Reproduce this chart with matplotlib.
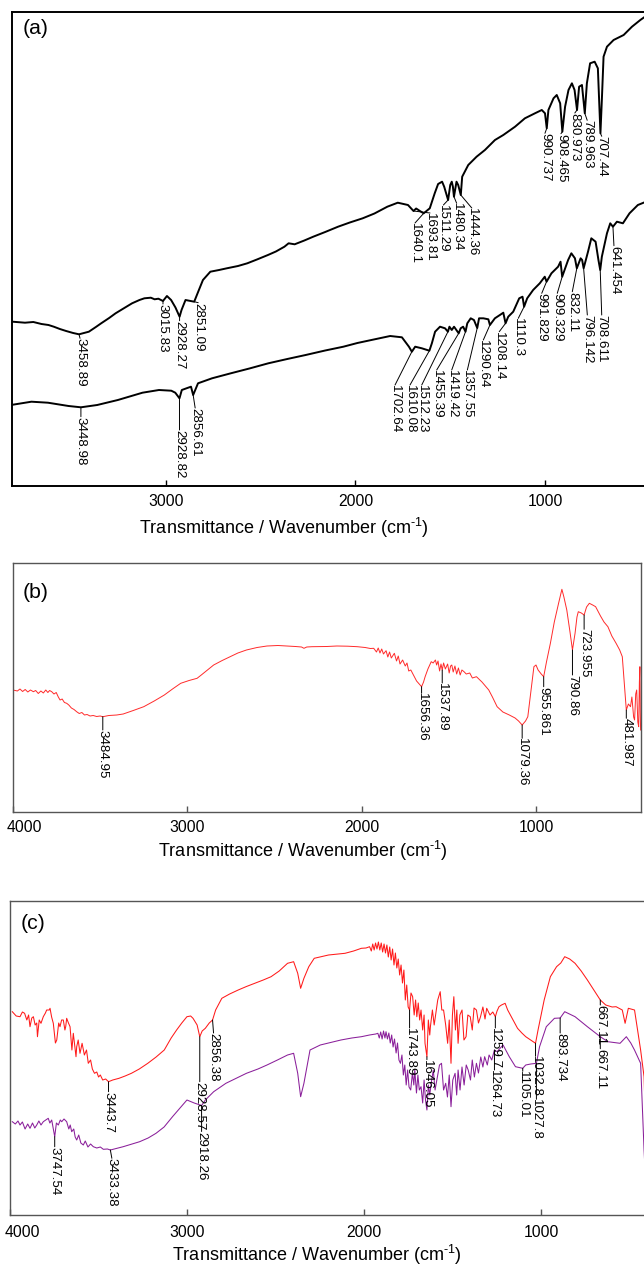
import numpy as np
import matplotlib
matplotlib.use("Agg")
import matplotlib.pyplot as plt
import matplotlib.transforms as mtransforms

plt.rcParams['font.family'] = ['Liberation Sans', 'DejaVu Sans']
plt.rcParams['mathtext.fontset'] = 'custom'
plt.rcParams['mathtext.rm'] = 'Liberation Sans'
plt.rcParams['mathtext.it'] = 'Liberation Sans:italic'
plt.rcParams['mathtext.bf'] = 'Liberation Sans:bold'

# ---------------- (a) two black spectra ----------------
a_up_wn = [3810, 3744, 3700, 3657, 3620, 3592, 3560, 3527, 3490, 3458.89, 3407, 3370, 3342, 3300, 3266,
           3220, 3179, 3140, 3114, 3080, 3060, 3040, 3015.83, 2995, 2973, 2950, 2928.27, 2918, 2897,
           2851.09, 2830, 2805, 2766, 2720, 2679, 2620, 2571, 2520, 2462, 2420, 2375, 2353, 2321, 2270,
           2223, 2160, 2092, 2030, 1962, 1900, 1832, 1777, 1723, 1693.81, 1680, 1660, 1640.1, 1608, 1582,
           1564, 1543, 1532, 1511.29, 1500, 1492, 1486, 1480.34, 1467, 1458, 1444.36, 1437, 1405, 1361,
           1317, 1264, 1220, 1158, 1106, 1053, 1017, 1000, 990.737, 982, 955, 938, 920, 908.465, 894, 876,
           858, 844, 830.973, 820, 805, 789.963, 779, 762, 738, 721, 707.44, 700, 691, 673, 638, 585, 541,
           497, 467, 430]
a_up_t = [163.8, 162.8, 163.5, 161.5, 160.5, 158.8, 156.5, 154.5, 152.5, 151.2, 153.8, 158.5, 162.2, 167.5,
          172.2, 177.5, 182.2, 185.5, 187.2, 187.8, 186.2, 186.8, 184.5, 189.5, 185.5, 178, 168.8, 175.5,
          185.5, 183.8, 193.8, 205.5, 213.8, 215.5, 217.2, 219.5, 222.2, 226, 230.5, 234, 238.8, 242.2,
          241.2, 245, 248.8, 253.5, 258.8, 263, 267.2, 272, 278.8, 282.8, 280.5, 274.5, 277, 274.5, 272.2,
          277.2, 292.2, 301.5, 303.8, 298.8, 285.5, 300.5, 303.8, 298.8, 288.8, 303.8, 300.5, 290.5, 308.8,
          320.5, 328.8, 335.5, 345.5, 350.5, 358.8, 367.2, 372.2, 375.5, 372.2, 357.2, 375.5, 387.2, 390.5,
          382.2, 353.8, 378.8, 395.5, 402.2, 395.5, 375.5, 398.8, 400.5, 372.2, 402.2, 422.2, 423.8, 417.2,
          352.2, 385.5, 428.8, 438.8, 445.5, 450.5, 458.8, 465.5, 469.5, 471]
a_up_peaks = [3458.89, 3015.83, 2928.27, 2851.09, 1693.81, 1640.1, 1511.29, 1480.34, 1444.36,
              990.737, 908.465, 830.973, 789.963, 707.44]

a_lo_wn = [3927, 3818, 3710, 3623, 3514, 3448.98, 3363, 3254, 3124, 3037, 2972, 2951, 2928.82, 2916.5,
           2892, 2868, 2856.61, 2831, 2757, 2658, 2560, 2460, 2360, 2263, 2160, 2064, 1990, 1916, 1817,
           1755, 1718, 1702.64, 1685, 1650, 1610.08, 1597, 1580, 1554, 1527.6, 1512.23, 1504.3, 1492, 1480,
           1455.39, 1445, 1432, 1419.42, 1410, 1392, 1375, 1357.55, 1348, 1325.4, 1299, 1290.64, 1264.4,
           1238, 1220, 1208.14, 1194, 1167.6, 1136, 1118.6, 1110.3, 1094, 1062.6, 1027.6, 1001.3, 991.829,
           966, 930.8, 918, 909.329, 878, 860.9, 842, 832.11, 812, 804, 796.142, 773, 755.6, 733, 718,
           708.611, 700, 673, 655.7, 641.454, 620.5, 588.8, 554, 510, 466.6, 445.6]
a_lo_t = [78.8, 80.5, 83.8, 82.8, 79.5, 78.2, 80.5, 85.5, 92.8, 95.5, 94.8, 92.8, 87.2, 95.5, 97.2, 98.8,
          90.5, 102.2, 107.2, 112.2, 117, 122.2, 126.5, 130.5, 135, 138.8, 142.5, 145.5, 149.5, 148.2,
          138.8, 133.8, 138.8, 137.2, 134.8, 142.2, 153.8, 158.8, 157.2, 153.8, 158.8, 155.5, 158.8, 152.2,
          157.2, 158.8, 153.8, 162.2, 167.2, 165.5, 157.5, 167.2, 167.2, 166.2, 160.5, 167.2, 170.5, 172.8,
          162.2, 168.8, 173.8, 187.2, 188.8, 178.8, 187.2, 195.5, 202.2, 208.8, 203.8, 212.2, 218.8, 223.8,
          208.8, 225.5, 232.2, 227.2, 217.2, 227.2, 225.5, 217.2, 233.8, 247.2, 243.8, 225.5, 215.5, 228.8,
          252.2, 262.2, 258.8, 263.8, 262.2, 272.2, 280.5, 283.8, 285.5]
a_lo_peaks = [3448.98, 2928.82, 2856.61, 1702.64, 1610.08, 1512.23, 1455.39, 1419.42, 1357.55,
              1290.64, 1208.14, 1110.3, 991.829, 909.329, 832.11, 796.142, 708.611, 641.454]

# ---------------- (b) red spectrum ----------------
b_wn = [4000, 3975, 3960, 3945, 3930, 3915, 3900, 3883, 3870, 3855, 3840, 3826, 3812, 3800, 3790, 3778,
        3765, 3752, 3740, 3730, 3718, 3705, 3692, 3680, 3665, 3650, 3635, 3620, 3605, 3590, 3575, 3558,
        3540, 3520, 3500, 3484.95, 3450, 3405, 3368, 3310, 3250, 3190, 3132, 3085, 3038, 2990, 2944, 2920,
        2885, 2849, 2800, 2755, 2710, 2661, 2600, 2543, 2480, 2425, 2380, 2345, 2331, 2315, 2285, 2200,
        2142, 2080, 2025, 1980, 1950, 1931, 1915, 1905, 1895, 1885, 1875, 1860, 1850, 1840, 1830, 1812.5,
        1800, 1790, 1780, 1765, 1750, 1740, 1730, 1718, 1700, 1685, 1670, 1656.36, 1645, 1636, 1620, 1601,
        1590, 1577, 1570, 1562, 1553, 1545, 1537.89, 1530, 1520, 1507, 1498, 1490, 1483, 1475, 1465, 1455,
        1445, 1435, 1425, 1413, 1400, 1380, 1365, 1341.5, 1310, 1271, 1250, 1223, 1190, 1153, 1120, 1100,
        1079.36, 1060, 1047, 1030, 1012, 1000, 988, 970, 955.861, 940, 917.5, 895, 870.5, 851.5, 840,
        823.4, 805, 790.86, 776, 765, 757.4, 740, 723.955, 710, 694, 675, 658, 630, 610, 587.6, 565,
        540.6, 520, 505, 490, 481.987, 470, 458, 450, 440, 434.5, 428, 422.4, 416, 411, 407, 404, 402, 400]
b_t = [122, 121, 123, 120.5, 122.5, 120, 122, 120.3, 121.5, 118.5, 121, 119, 122, 119.5, 121.5, 120.3,
       118, 119.5, 115, 112, 113, 109.5, 108.7, 107, 104, 102.5, 100.3, 98.5, 99.5, 97, 97.5, 96, 96.5,
       95.5, 96, 95.3, 96.5, 97, 98, 101.5, 105.3, 111, 117, 123, 128.7, 131.5, 133.7, 137, 142, 147,
       151.5, 155.3, 159, 162, 164.5, 166, 166.5, 166, 165.5, 165, 163.7, 165, 165.3, 165.5, 166, 165.8,
       165.3, 164.5, 163.5, 163.7, 160, 164, 159, 163, 158, 161.3, 155, 160, 154, 158.7, 151, 156, 148,
       152, 146, 149, 141, 142, 136, 131, 128, 125.3, 130, 135.3, 143, 150.3, 149, 152, 147, 151, 141,
       148, 142, 149, 143, 148, 139, 146, 147, 140, 146, 138, 144, 137, 142, 140.3, 138, 139, 134, 135.3,
       130, 122, 115, 105.3, 100, 97, 94, 91, 87, 91, 95.3, 120, 145.3, 147, 142, 138, 135.3, 150, 168.7,
       190, 208.7, 222.7, 215, 202, 180, 162, 178.7, 195, 200.3, 199, 197, 205, 208.7, 207, 205.3, 196,
       190, 185.3, 176, 168.7, 162, 155.3, 120, 102, 108, 105.3, 115, 95, 92, 118, 122, 90, 85.3, 130,
       145.3, 100, 82]
b_peaks = [3484.95, 1656.36, 1537.89, 1079.36, 955.861, 790.86, 723.955, 481.987]

# ---------------- (c) red and purple spectra ----------------
c_red_wn = [3987, 3965, 3943.5, 3930, 3917.6, 3905, 3895, 3887, 3877, 3868, 3858, 3849, 3845, 3835, 3825,
            3812, 3800, 3793, 3778, 3774, 3765, 3755.5, 3743.6, 3736, 3725, 3717.7, 3708.6, 3699, 3690,
            3685.5, 3680, 3670, 3661, 3650.5, 3642.6, 3627.3, 3623.4, 3615, 3604.7, 3593, 3580, 3568, 3558,
            3545, 3535, 3523, 3510, 3500, 3490, 3476.6, 3460, 3443.7, 3420, 3384.5, 3350, 3314.5, 3270,
            3222, 3175, 3129, 3090, 3059.3, 3030, 3001, 2980, 2966.7, 2943.5, 2928.57, 2915, 2897.2, 2875,
            2856.38, 2839, 2804, 2760, 2711.5, 2665, 2619, 2570, 2526, 2480, 2433, 2398.6, 2375.5, 2359,
            2340.5, 2313, 2282.3, 2201.6, 2108.4, 2060, 2016, 1990, 1969.5, 1960, 1952, 1944, 1936, 1928,
            1920, 1912, 1904, 1896, 1888, 1880, 1872, 1864, 1856, 1848, 1840, 1832, 1824, 1816, 1808, 1800,
            1792, 1784, 1776, 1768, 1760, 1752, 1743.89, 1736, 1726.6, 1718, 1710, 1703, 1695, 1687, 1679.3,
            1670, 1662, 1656.7, 1646.05, 1638, 1630, 1626.3, 1615, 1605, 1598.5, 1585, 1571, 1562, 1552,
            1540, 1529, 1520, 1510, 1502, 1494, 1485, 1477, 1470, 1460, 1447.7, 1437, 1425, 1415, 1401.4,
            1390, 1380, 1366.5, 1355, 1343.3, 1330, 1318, 1308.4, 1290, 1274, 1259.7, 1250, 1239, 1225,
            1204.4, 1190, 1169.4, 1150, 1134.4, 1110, 1088, 1060, 1032.8, 1018.6, 984, 949, 914, 890, 868,
            840, 809.7, 775, 740, 700, 667.11, 636.4, 600, 578, 543, 527, 508.8, 473.8, 439.4, 420, 410, 400]
c_red_t = [203.3, 199, 198.3, 203, 201.7, 195, 200, 188.3, 197, 198.3, 190, 192, 178.3, 195, 191.7, 198.3,
           202, 205, 205, 206.7, 198, 191.7, 172, 175, 192, 188.3, 195, 195, 185, 188.3, 196.7, 192, 188.3,
           165, 181.7, 158.3, 168.3, 175, 161.7, 171.7, 160, 165, 151.7, 155, 146, 141.7, 143, 138, 140,
           135, 136, 133.3, 135, 136.7, 139, 141.7, 146, 151.7, 158, 165, 177, 185, 192, 198.3, 199, 196.7,
           190, 178.3, 184, 186.7, 192, 195, 205, 216.7, 221, 225, 228.5, 231.7, 235, 238.3, 244, 251.7,
           253.3, 241.7, 226.7, 236.7, 248.3, 256.7, 260, 261.7, 264, 266.7, 267, 268.3, 264, 271, 265,
           272, 266, 273, 265, 272, 263, 271, 262, 270, 258, 268, 255, 266, 250, 262, 247, 256, 240, 250,
           232, 245, 215, 230, 208, 205, 222, 218.3, 200, 215, 198.3, 212, 195, 205, 185, 200, 171.7, 158.3,
           195, 180, 188.3, 205, 190, 198.3, 215, 223.3, 205, 205, 190, 171.7, 195, 151.7, 200, 218.3, 185,
           205, 171.7, 200, 205, 175, 178.3, 200, 198.3, 185, 207, 205, 192, 198.3, 208, 196, 206.7, 200,
           203, 198.3, 204, 208.3, 210, 211.7, 205, 198.3, 192, 186.7, 182, 178.3, 175, 171.7, 185, 215,
           238.3, 248.3, 252, 258.3, 256, 251.7, 244, 235, 224, 215, 210, 208, 208.3, 205, 191.7, 206.7, 205,
           165, 138.3, 80, 60]
c_red_peaks = [3443.7, 2928.57, 2856.38, 1743.89, 1646.05, 1259.7, 1032.8, 667.11]

c_pur_wn = [3987, 3970, 3955, 3943.5, 3930, 3915, 3900, 3887, 3873, 3860, 3849, 3837, 3825, 3812, 3798,
            3784, 3775, 3764.5, 3747.54, 3738, 3727, 3716, 3708, 3695, 3680, 3668, 3660, 3651.6, 3640, 3632,
            3623.4, 3612, 3600, 3586, 3575, 3560, 3545, 3529.6, 3510, 3490, 3473, 3450, 3433.38, 3400, 3361,
            3320, 3268, 3220, 3175.6, 3130, 3082.4, 3040, 3001, 2978, 2960, 2943.5, 2918.26, 2897, 2850,
            2781, 2720, 2665, 2600, 2549, 2490, 2433, 2398.6, 2375.5, 2359, 2340.5, 2306, 2248, 2190,
            2131.6, 2070, 2016, 1970, 1935, 1923, 1915, 1907, 1899, 1891, 1883, 1877, 1869, 1861, 1853,
            1845, 1837, 1829, 1820, 1812, 1804, 1795.6, 1787, 1779, 1771, 1763, 1755, 1747, 1737.5, 1728,
            1720, 1714.5, 1705, 1697, 1689, 1679.3, 1670, 1662, 1654, 1646, 1638, 1630, 1622, 1610, 1600,
            1587, 1575, 1563.6, 1552, 1540, 1530, 1520, 1510, 1500, 1487, 1478, 1470, 1459, 1448, 1436,
            1424, 1413, 1400, 1390, 1378, 1366.5, 1355, 1342, 1330, 1320, 1305, 1295, 1280, 1264.73, 1250,
            1216, 1181, 1146, 1105.01, 1088, 1060, 1027.8, 1010, 972, 926, 893.734, 868, 809.7, 740, 667.11,
            624.5, 555.6, 520, 495, 474, 439.4, 420, 410, 400]
c_pur_t = [93.3, 91, 94, 90, 93, 86, 91, 86.7, 92, 87, 90, 94, 90, 93.3, 95, 96.7, 92, 95, 78.3, 92, 90,
           95, 93.3, 96, 93.3, 86, 90, 83.3, 86, 78, 75, 80, 72, 70, 74, 68, 71, 68.3, 67, 68, 65.7, 66, 65,
           66.5, 68.3, 70.5, 73.3, 77, 81.7, 88, 98.3, 107, 115, 113.3, 112, 111, 109.5, 115, 123.3, 131.7,
           137, 141.7, 146, 150, 155, 160, 161.7, 141.7, 118.3, 131.7, 165, 170, 172.5, 175, 177, 178.3,
           180, 181, 181.7, 177, 183, 176, 184, 177, 183.3, 176, 182, 172, 180, 168, 176, 162, 172, 155,
           151.7, 160, 140, 150, 130, 145, 128, 125, 142, 130, 145, 122, 140, 125, 128.3, 112, 135, 115,
           105, 130, 120, 131.7, 145, 125, 138.3, 150, 151.7, 125, 131.7, 118, 140, 108.3, 135, 141.7, 120,
           145, 125, 148, 130, 150, 145, 135, 155, 138, 151.7, 142, 158, 148, 158.3, 150, 160, 155, 165,
           163.3, 170, 158.3, 148.3, 146.7, 150, 151, 151.7, 168.3, 188.3, 196.7, 197, 203.3, 198.3, 188.3,
           178.3, 173.3, 171.7, 178.3, 172, 165, 151.7, 65, 30, 20]
c_pur_peaks = [3747.54, 3433.38, 2918.26, 1264.73, 1105.01, 1027.8, 893.734, 667.11]

# label placement (pixel offsets of the text top from each marked point)
a_up_offsets = [(1, -4), (0, -3), (0, -4), (4, -1), (16.5, -2), (-8.7, -9.7), (-4.7, -5), (2.7, -6.6),
                (11, -13), (-1.8, -5), (-1.4, -2), (-2.2, -3), (2.4, -7), (1.3, -3)]
a_lo_offsets = [(0, -9.4), (0, -31.7), (2, -13), (-16.8, -33.3), (-19.4, -34.3), (-26.2, -53.3),
                (-22, -36.7), (-13.8, -38.3), (-9.9, -42), (-6.6, -15), (-6.3, -8.4), (-5.8, -11.6),
                (-4.8, -11.6), (-4.9, -16.6), (-4.5, -23.4), (3.7, -46.7), (1.5, -45), (1, -19)]
b_offsets = [(0, -13.3), (0, -6.6), (0, -13), (0, -13.3), (0, -10), (0, -25), (0, -14.3), (0, -8.3)]
c_red_offsets = [(0, -10), (0, -45), (1, -13), (0, -18), (0, -3), (0, -11.3), (0, -13), (0, -5)]
c_pur_offsets = [(0, -10), (1.5, -8.3), (0, -26), (0, -20), (0, -3), (0, -36), (0, -15), (0, -12)]

FIG_W, FIG_H = 644, 1265
fig = plt.figure(figsize=(FIG_W / 100, FIG_H / 100), dpi=100)
fig.patch.set_facecolor('white')


def axes_px(left, top, right, bottom):
    return fig.add_axes([left / FIG_W, 1 - bottom / FIG_H, (right - left) / FIG_W, (bottom - top) / FIG_H])


def label_peaks(ax, wn, tr, peaks, offsets):
    wn_r = np.asarray(wn, float)[::-1]
    tr_r = np.asarray(tr, float)[::-1]
    for p, (dx, dy) in zip(peaks, offsets):
        y = np.interp(p, wn_r, tr_r)
        ax.annotate(str(p), xy=(p, y), xytext=(dx, dy), textcoords='offset pixels',
                    rotation=270, ha='center', va='top', fontsize=9.6, color='black',
                    annotation_clip=False,
                    arrowprops=dict(arrowstyle='-', color='black', lw=0.7, shrinkA=0, shrinkB=0,
                                    patchA=None, relpos=(0.5, 1.0)))


def style_axes(ax, xlim, ylim, ticks, spine_color, spine_lw, label_cx_px, label_off_px,
               ax_left_px, ax_w_px, ax_h_px, tick_pad, letter, letter_dx, letter_dy, shift_first=0):
    ax.set_xlim(*xlim)
    ax.set_ylim(*ylim)
    ax.set_yticks([])
    ax.set_xticks(ticks)
    ax.set_xticklabels([str(t) for t in ticks])
    for s in ax.spines.values():
        s.set_color(spine_color)
        s.set_linewidth(spine_lw)
    ax.tick_params(axis='x', direction='in', length=4, width=1, pad=tick_pad, labelsize=11.3,
                   colors='black')
    ax.tick_params(axis='x', color=spine_color)
    ax.set_xlabel(r'Transmittance / Wavenumber (cm$^{\text{-}1}$)', fontsize=13)
    ax.xaxis.label.set_va('center')
    ax.xaxis.set_label_coords((label_cx_px - ax_left_px) / ax_w_px, -label_off_px / ax_h_px)
    ax.annotate(letter, xy=(0, 1), xycoords='axes fraction', xytext=(letter_dx, letter_dy),
                textcoords='offset pixels', ha='left', va='center', fontsize=15.3)
    if shift_first:
        lab = ax.xaxis.get_major_ticks()[0].label1
        lab.set_transform(lab.get_transform() + mtransforms.Affine2D().translate(shift_first, 0))


# (a)
ax_a = axes_px(12.3, 12, 658.7, 485.5)
ax_a.plot(a_up_wn, a_up_t, color='black', lw=1.4, solid_joinstyle='round')
ax_a.plot(a_lo_wn, a_lo_t, color='black', lw=1.4, solid_joinstyle='round')
label_peaks(ax_a, a_up_wn, a_up_t, a_up_peaks, a_up_offsets)
label_peaks(ax_a, a_lo_wn, a_lo_t, a_lo_peaks, a_lo_offsets)
style_axes(ax_a, (3811, 400), (0, 473.5), [3000, 2000, 1000], 'black', 1.4, 284.4, 42,
           12.3, 646.4, 473.5, 5.9, '(a)', 10.3, -16)

# (b)
ax_b = axes_px(13, 563, 640.6, 812)
ax_b.plot(b_wn, b_t, color='#ff2a2a', lw=0.7)
label_peaks(ax_b, b_wn, b_t, b_peaks, b_offsets)
style_axes(ax_b, (4000, 400), (0, 249), [4000, 3000, 2000, 1000], '#555555', 1.0, 303, 39,
           13, 627.6, 249, 5.9, '(b)', 9.7, -29, shift_first=11)

# (c)
ax_c = axes_px(10, 901, 647.6, 1215)
ax_c.plot(c_red_wn, c_red_t, color='#ff1a1a', lw=0.75)
ax_c.plot(c_pur_wn, c_pur_t, color='#8a1f9a', lw=0.75)
label_peaks(ax_c, c_red_wn, c_red_t, c_red_peaks, c_red_offsets)
label_peaks(ax_c, c_pur_wn, c_pur_t, c_pur_peaks, c_pur_offsets)
style_axes(ax_c, (4000, 400), (0, 314), [4000, 3000, 2000, 1000], '#555555', 1.0, 317, 40,
           10, 637.6, 314, 7.3, '(c)', 10.7, -22.5, shift_first=12)

fig.savefig('out.png', dpi=100, facecolor='white')
